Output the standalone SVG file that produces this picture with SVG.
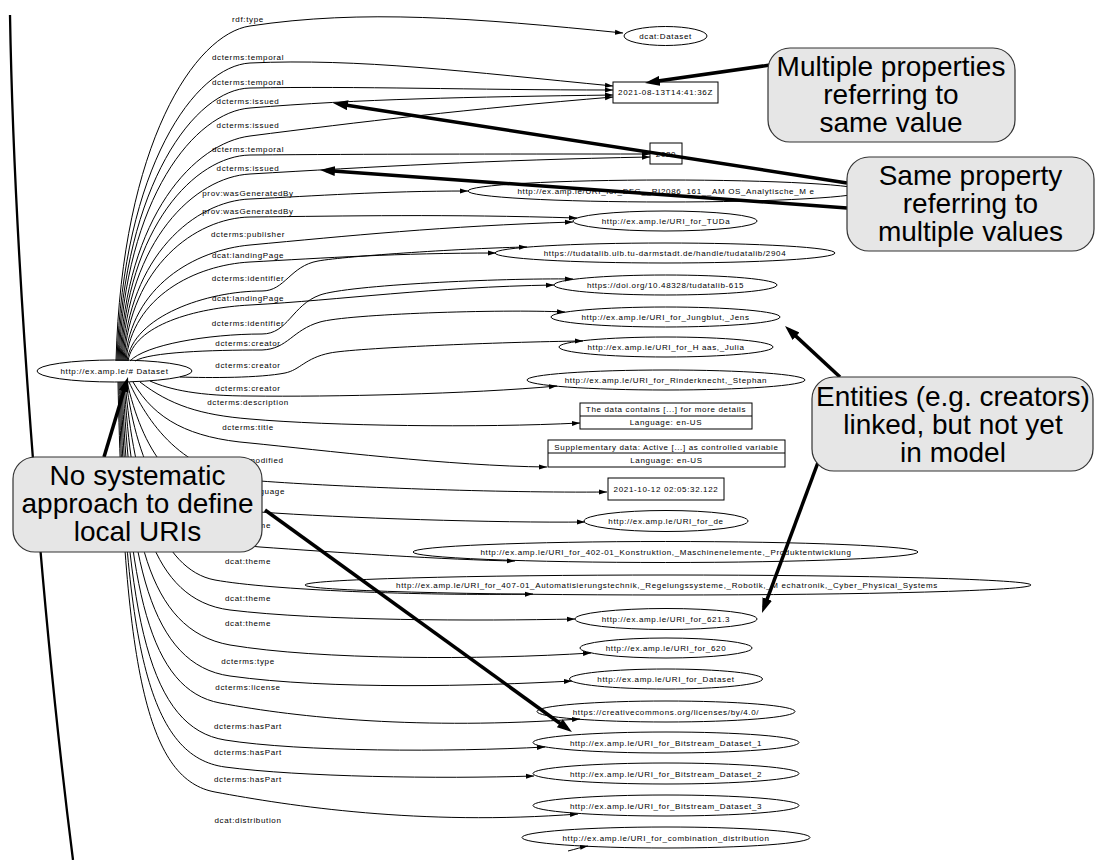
<svg xmlns="http://www.w3.org/2000/svg" width="1095" height="860" viewBox="0 0 1095 860">
<defs>
<marker id="ah" markerWidth="8" markerHeight="6" refX="8" refY="3" orient="auto" markerUnits="userSpaceOnUse"><path d="M0,0.5 L8,3 L0,5.5 z" fill="#000"/></marker>
<marker id="bh" markerWidth="15" markerHeight="10" refX="9" refY="5" orient="auto" markerUnits="userSpaceOnUse"><path d="M0,0 L15,5 L0,10 z" fill="#000"/></marker>
<style>
.e{fill:none;stroke:#000;stroke-width:1;marker-end:url(#ah)}
.n{fill:none;stroke:#000;stroke-width:1}
.t{font-family:"Liberation Sans",Arial,sans-serif;font-size:8px;letter-spacing:0.65px;text-anchor:middle;fill:#000}
.cb{fill:#e6e6e6;stroke:#333;stroke-width:1.2}
.ct{font-family:"Liberation Sans",Arial,sans-serif;font-size:28px;text-anchor:middle;fill:#000}
.ca{fill:none;stroke:#000;stroke-width:3.5;marker-end:url(#bh)}
</style>
</defs>
<rect width="1095" height="860" fill="#fff"/>
<path d="M10,15 C14,250 40,600 73,860" fill="none" stroke="#000" stroke-width="2.3"/>

<g id="edges">
<g id="e1"><path class="e" d="M116,361 C122,143 195,34 250,26 C362,9 474,18 623,33"/><text class="t" x="248" y="22">rdf:type</text></g>
<g id="e2"><path class="e" d="M117,361 C123,167 195,66 250,63 C359,58 468,72 613,86"/><text class="t" x="248" y="60">dcterms:temporal</text></g>
<g id="e3"><path class="e" d="M118,361 C124,184 195,89 250,88 C359,86 468,90 613,90"/><text class="t" x="248" y="85">dcterms:temporal</text></g>
<g id="e4"><path class="e" d="M119,361 C125,197 195,112 250,108 C359,99 468,97 613,95"/><text class="t" x="248" y="104">dcterms:issued</text></g>
<g id="e5"><path class="e" d="M120,361 C126,215 195,143 250,136 C359,122 468,109 613,97"/><text class="t" x="248" y="128">dcterms:issued</text></g>
<g id="e6"><path class="e" d="M121,361 C127,227 195,156 250,155 C370,154 490,154 650,154"/><text class="t" x="248" y="152">dcterms:temporal</text></g>
<g id="e7"><path class="e" d="M122,361 C128,240 195,177 250,174 C370,167 490,160 650,157"/><text class="t" x="248" y="171">dcterms:issued</text></g>
<g id="e8"><path class="e" d="M123,361 C129,256 195,201 250,199 C315,196 381,191 468,191"/><text class="t" x="248" y="196">prov:wasGeneratedBy</text></g>
<g id="e9"><path class="e" d="M124,361 C130,267 195,218 250,217 C348,216 446,214 577,218"/><text class="t" x="248" y="214">prov:wasGeneratedBy</text></g>
<g id="e10"><path class="e" d="M125,361 C131,286 195,250 250,245 C347,236 444,226 573,222"/><text class="t" x="248" y="237">dcterms:publisher</text></g>
<g id="e11"><path class="e" d="M126,361 C132,297 195,265 250,262 C324,258 398,253 496,253"/><text class="t" x="248" y="258">dcat:landingPage</text></g>
<g id="e12"><path class="e" d="M127,361 C133,316 207,291 262,291 C285,291 290,266 318,261 C346,256 470,248 527,247"/><text class="t" x="248" y="281">dcterms:identifier</text></g>
<g id="e13"><path class="e" d="M128,361 C134,325 195,308 250,305 C341,300 432,287 554,285"/><text class="t" x="248" y="301">dcat:landingPage</text></g>
<g id="e14"><path class="e" d="M130,361 C145,345 207,334 262,334 C288,334 292,305 320,295 C348,285 500,278 573,279"/><text class="t" x="248" y="326">dcterms:identifier</text></g>
<g id="e15"><path class="e" d="M135,361 C150,352 210,350 262,350 C288,349 292,330 320,322 C348,314 500,309 565,312"/><text class="t" x="248" y="346">dcterms:creator</text></g>
<g id="e16"><path class="e" d="M180,377 C210,378 260,378 285,373 C300,370 305,358 330,353 C355,348 500,342 583,341"/><text class="t" x="248" y="368">dcterms:creator</text></g>
<g id="e17"><path class="e" d="M150,381 C170,390 200,396 250,396 C330,397 470,394 557,386"/><text class="t" x="248" y="391">dcterms:creator</text></g>
<g id="e18"><path class="e" d="M140,382 C170,405 200,415 250,419 C330,426 480,428 580,423"/><text class="t" x="248" y="405">dcterms:description</text></g>
<g id="e19"><path class="e" d="M133,382 C155,420 190,438 250,443 C320,450 450,466 547,467"/><text class="t" x="248" y="430">dcterms:title</text></g>
<g id="e20"><path class="e" d="M129,382 C147,420 180,475 260,481 C340,487 500,493 607,492"/><text class="t" x="248" y="463">dcterms:modified</text></g>
<g id="e21"><path class="e" d="M127,382 C142,445 170,505 260,512 C340,518 500,523 585,522"/><text class="t" x="248" y="494">dcterms:language</text></g>
<g id="e22"><path class="e" d="M126,382 C138,465 165,540 260,547 C330,552 450,560 515,561"/><text class="t" x="248" y="528">dcat:theme</text></g>
<g id="e23"><path class="e" d="M125,382 C134,485 160,570 215,580 C270,590 420,596 533,594"/><text class="t" x="248" y="564">dcat:theme</text></g>
<g id="e24"><path class="e" d="M124,382 C132,505 150,600 230,610 C320,621 480,621 575,619"/><text class="t" x="248" y="601">dcat:theme</text></g>
<g id="e25"><path class="e" d="M123,382 C130,525 145,630 230,645 C320,660 480,660 591,653"/><text class="t" x="248" y="626">dcat:theme</text></g>
<g id="e26"><path class="e" d="M122,382 C128,560 150,665 230,676 C330,690 480,686 572,681"/><text class="t" x="248" y="664">dcterms:type</text></g>
<g id="e27"><path class="e" d="M121,382 C127,590 150,690 220,703 C300,718 420,730 580,719"/><text class="t" x="248" y="690">dcterms:license</text></g>
<g id="e28"><path class="e" d="M120,382 C126,620 150,728 225,740 C300,752 450,752 545,747"/><text class="t" x="248" y="729">dcterms:hasPart</text></g>
<g id="e29"><path class="e" d="M119,382 C125,650 150,757 225,767 C300,777 440,779 534,776"/><text class="t" x="248" y="755">dcterms:hasPart</text></g>
<g id="e30"><path class="e" d="M118,382 C124,680 150,780 215,792 C290,806 420,826 578,814"/><text class="t" x="248" y="782">dcterms:hasPart</text></g>
<g id="e31"><path class="e" d="M568,851 C576,849 582,847 588,846"/><text class="t" x="248" y="823">dcat:distribution</text></g>
</g>

<g id="nodes">
<g id="n-root"><ellipse class="n" cx="114.5" cy="371" rx="77.5" ry="11"/><text class="t" x="114.5" y="374">http://ex.amp.le/# Dataset</text></g>
<g id="n-dataset"><ellipse class="n" cx="665.5" cy="36" rx="41.5" ry="9.5"/><text class="t" x="665.5" y="39">dcat:Dataset</text></g>
<g id="n-date1"><rect class="n" x="613" y="82" width="105" height="21"/><text class="t" x="665.5" y="95">2021-08-13T14:41:36Z</text></g>
<g id="n-2020"><rect class="n" x="650" y="143" width="32" height="21"/><text class="t" x="666" y="156.5">2020</text></g>
<g id="n-dfg"><ellipse class="n" cx="666" cy="191" rx="198" ry="11"/><text class="t" x="666" y="194">http://ex.amp.le/URI_for_DFG__RI2086_161__AM OS_Analytische_M e</text></g>
<g id="n-tuda"><ellipse class="n" cx="665" cy="221" rx="92" ry="10"/><text class="t" x="666" y="224">http://ex.amp.le/URI_for_TUDa</text></g>
<g id="n-tudatalib"><ellipse class="n" cx="665" cy="253" rx="170" ry="10"/><text class="t" x="665" y="256">https://tudatalib.ulb.tu-darmstadt.de/handle/tudatalib/2904</text></g>
<g id="n-doi"><ellipse class="n" cx="665.5" cy="285" rx="111.5" ry="10"/><text class="t" x="665.5" y="288">https://doi.org/10.48328/tudatalib-615</text></g>
<g id="n-jungblut"><ellipse class="n" cx="665.5" cy="317" rx="114.5" ry="10"/><text class="t" x="665.5" y="320">http://ex.amp.le/URI_for_Jungblut,_Jens</text></g>
<g id="n-haas"><ellipse class="n" cx="666" cy="347" rx="107" ry="10"/><text class="t" x="666" y="350">http://ex.amp.le/URI_for_H aas,_Julia</text></g>
<g id="n-rinder"><ellipse class="n" cx="666" cy="380" rx="139" ry="10"/><text class="t" x="666" y="383">http://ex.amp.le/URI_for_Rinderknecht,_Stephan</text></g>
<g id="n-desc"><rect class="n" x="580" y="403" width="172" height="26"/><line class="n" x1="580" y1="416" x2="752" y2="416"/><text class="t" x="666" y="412">The data contains [...] for more details</text><text class="t" x="666" y="425">Language: en-US</text></g>
<g id="n-suppl"><rect class="n" x="548" y="440" width="237" height="27"/><line class="n" x1="548" y1="453" x2="785" y2="453"/><text class="t" x="666.5" y="449.5">Supplementary data: Active [...] as controlled variable</text><text class="t" x="666.5" y="463">Language: en-US</text></g>
<g id="n-date2"><rect class="n" x="608" y="478" width="116" height="22"/><text class="t" x="666" y="492">2021-10-12 02:05:32.122</text></g>
<g id="n-de"><ellipse class="n" cx="666" cy="521" rx="82" ry="10.5"/><text class="t" x="666" y="524">http://ex.amp.le/URI_for_de</text></g>
<g id="n-402"><ellipse class="n" cx="665.5" cy="552" rx="252.5" ry="10.5"/><text class="t" x="666" y="555">http://ex.amp.le/URI_for_402-01_Konstruktion,_Maschinenelemente,_Produktentwicklung</text></g>
<g id="n-407"><ellipse class="n" cx="668" cy="585" rx="363" ry="10"/><text class="t" x="667" y="588">http://ex.amp.le/URI_for_407-01_Automatisierungstechnik,_Regelungssysteme,_Robotik,_M echatronik,_Cyber_Physical_Systems</text></g>
<g id="n-621"><ellipse class="n" cx="666" cy="619" rx="91" ry="10.5"/><text class="t" x="666" y="622">http://ex.amp.le/URI_for_621.3</text></g>
<g id="n-620"><ellipse class="n" cx="666" cy="648" rx="86" ry="10"/><text class="t" x="666" y="651">http://ex.amp.le/URI_for_620</text></g>
<g id="n-uridataset"><ellipse class="n" cx="666" cy="679" rx="96.5" ry="10"/><text class="t" x="666" y="682">http://ex.amp.le/URI_for_Dataset</text></g>
<g id="n-cc"><ellipse class="n" cx="666" cy="711.5" rx="129" ry="10.5"/><text class="t" x="666" y="714.5">https://creativecommons.org/licenses/by/4.0/</text></g>
<g id="n-bs1"><ellipse class="n" cx="666" cy="742.5" rx="133" ry="10.5"/><text class="t" x="666" y="745.5">http://ex.amp.le/URI_for_Bitstream_Dataset_1</text></g>
<g id="n-bs2"><ellipse class="n" cx="666" cy="773.5" rx="133" ry="10.5"/><text class="t" x="666" y="776.5">http://ex.amp.le/URI_for_Bitstream_Dataset_2</text></g>
<g id="n-bs3"><ellipse class="n" cx="666" cy="805.5" rx="133" ry="10.5"/><text class="t" x="666" y="808.5">http://ex.amp.le/URI_for_Bitstream_Dataset_3</text></g>
<g id="n-comb"><ellipse class="n" cx="666" cy="837.5" rx="144" ry="10.5"/><text class="t" x="666" y="840.5">http://ex.amp.le/URI_for_combination_distribution</text></g>
</g>

<g id="callout-arrows">
<path class="ca" d="M770,65 L650.9,82.1"/>
<path class="ca" d="M847,183 L338.9,103.9"/>
<path class="ca" d="M847,208 L326,170.4"/>
<path class="ca" d="M840,377 L789.4,330.1"/>
<path class="ca" d="M820,457 L764.1,607.4"/>
<path class="ca" d="M104,457 L126.3,382.7"/>
<path class="ca" d="M265,510 L567.1,728.5"/>
</g>

<g id="c-multiple"><rect class="cb" x="768" y="48" width="247" height="94" rx="22"/><text class="ct" x="891" y="76">Multiple properties</text><text class="ct" x="891" y="104">referring to</text><text class="ct" x="891" y="132">same value</text></g>
<g id="c-same"><rect class="cb" x="847" y="157" width="247" height="94" rx="22"/><text class="ct" x="970.5" y="185">Same property</text><text class="ct" x="970.5" y="213">referring to</text><text class="ct" x="970.5" y="241">multiple values</text></g>
<g id="c-entities"><rect class="cb" x="812" y="377" width="281" height="94" rx="22"/><text class="ct" x="953" y="406">Entities (e.g. creators)</text><text class="ct" x="953" y="434">linked, but not yet</text><text class="ct" x="953" y="462">in model</text></g>
<g id="c-nosys"><rect class="cb" x="13" y="457" width="249" height="95" rx="22"/><text class="ct" x="137.5" y="485">No systematic</text><text class="ct" x="137.5" y="513">approach to define</text><text class="ct" x="137.5" y="541">local URIs</text></g>
</svg>
